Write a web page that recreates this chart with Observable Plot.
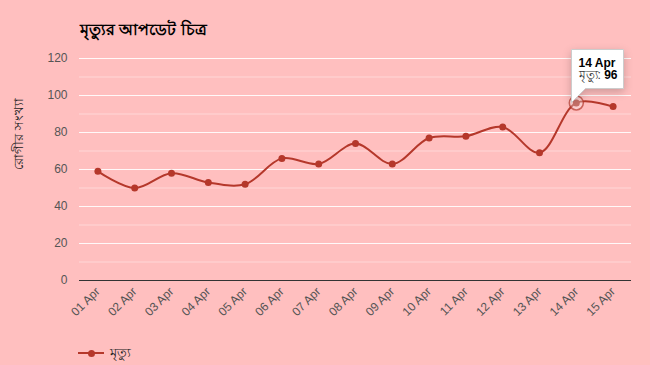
<!DOCTYPE html>
<html><head><meta charset="utf-8">
<script src="https://cdn.jsdelivr.net/npm/d3@7"></script>
<script src="https://cdn.jsdelivr.net/npm/@observablehq/plot@0.6"></script>
<style>
html,body{margin:0;padding:0;background:#ffbfbf;width:650px;height:365px;overflow:hidden;font-family:Arial,"Liberation Sans",sans-serif}
#title{height:40px;box-sizing:border-box;padding:20px 0 0 80px;font-size:16px;font-weight:bold;color:#000;line-height:20px}
#chart svg{display:block}
#legend{height:35px;position:relative;font-size:13px;color:#222}
#legend .ln{position:absolute;left:78px;top:22px;width:26px;height:2px;background:#b5382b}
#legend .dt{position:absolute;left:88px;top:19.5px;width:7px;height:7px;border-radius:50%;background:#b5382b}
#legend .lb{position:absolute;left:110px;top:14px;line-height:18px}
</style></head><body>
<div id="title"></div>
<div id="chart"></div>
<div id="legend"><div class="ln"></div><div class="dt"></div><div class="lb"></div></div>
<script>
const titleText = "মৃত্যুর আপডেট চিত্র";
const yLabel = "রোগীর সংখ্যা";
const seriesName = "মৃত্যু";
const dates = ["01 Apr","02 Apr","03 Apr","04 Apr","05 Apr","06 Apr","07 Apr","08 Apr","09 Apr","10 Apr","11 Apr","12 Apr","13 Apr","14 Apr","15 Apr"];
const deaths = [59,50,58,53,52,66,63,74,63,77,78,83,69,96,94];
const majorTicks = [0,20,40,60,80,100,120];
const minorTicks = [10,30,50,70,90,110];
const highlightDate = "14 Apr";

const color = "#b5382b";
const data = dates.map((d,i)=>({date:d, value:deaths[i]}));
const hl = data.filter(d=>d.date===highlightDate);

document.getElementById("title").textContent = titleText;
document.querySelector("#legend .lb").textContent = seriesName;

const chart = Plot.plot({
  width:650, height:290, marginTop:18, marginBottom:50, marginLeft:79, marginRight:19,
  style:{background:"transparent", fontFamily:"Arial, 'Liberation Sans', sans-serif", fontSize:"12px", color:"#555", overflow:"visible"},
  x:{type:"point", domain:dates, padding:0.5, round:false, label:null},
  y:{domain:[0,120], label:null},
  marks:[
    Plot.ruleY(minorTicks,{stroke:"#fff", strokeOpacity:0.4}),
    Plot.ruleY(majorTicks.filter(t=>t>0),{stroke:"#fff", strokeOpacity:0.9}),
    Plot.axisY({ticks:majorTicks, tickSize:0, tickPadding:12, fontSize:12, fill:"#555", label:null}),
    Plot.axisX({tickSize:0, tickRotate:-45, tickPadding:9, fontSize:12, fill:"#555", label:null}),
    Plot.text([yLabel],{frameAnchor:"left", rotate:-90, dx:-61, text:d=>d, fontSize:13, fill:"#222"}),
    Plot.ruleY([0],{stroke:"#333"}),
    Plot.line(data,{x:"date",y:"value",stroke:color,strokeWidth:2,curve:"catmull-rom"}),
    Plot.dot(data,{x:"date",y:"value",fill:color,r:3.5}),
    Plot.dot(hl,{x:"date",y:"value",r:7,stroke:color,strokeOpacity:0.7,fill:"#fff",fillOpacity:0.3}),
    Plot.tip(hl,{x:"date",y:"value",title:d=>`${d.date}\n${seriesName}: ${d.value}`, anchor:"bottom-left", dx:-5, fill:"#fff", stroke:"#ccc", fontSize:12, textPadding:6, pointerSize:14})
  ]
});
document.getElementById("chart").appendChild(chart);

// style tooltip lines: bold date and bold value
const tsp = chart.querySelectorAll('g[aria-label="tip"] text tspan');
if (tsp.length >= 2) {
  tsp[0].setAttribute("font-weight","bold");
  tsp[0].setAttribute("fill","#000");
  const v = hl[0];
  tsp[1].textContent = `${seriesName}: `;
  tsp[1].setAttribute("fill","#333");
  const b = document.createElementNS("http://www.w3.org/2000/svg","tspan");
  b.setAttribute("font-weight","bold");
  b.setAttribute("fill","#000");
  b.textContent = String(v.value);
  tsp[1].appendChild(b);
}
</script>
</body></html>
